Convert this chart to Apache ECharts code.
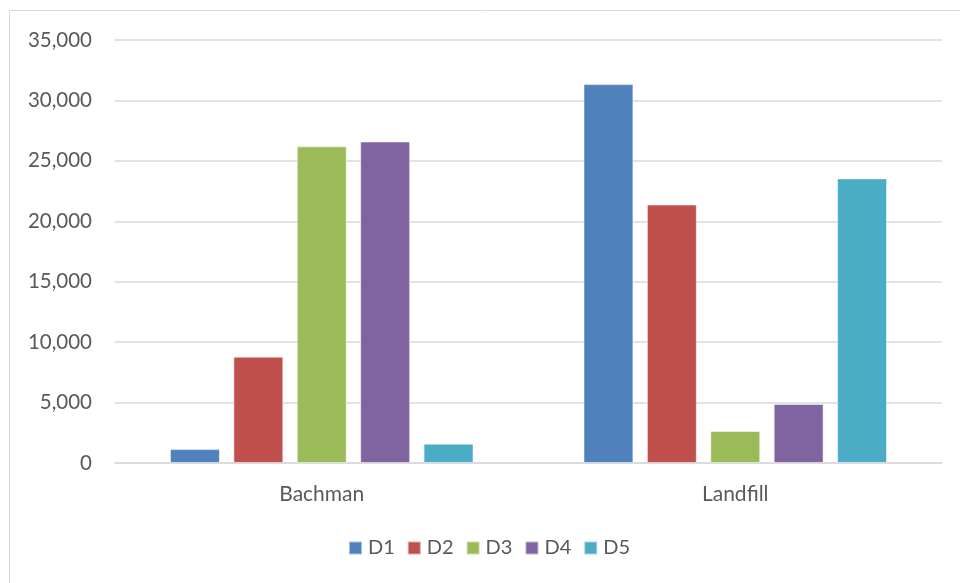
<!DOCTYPE html>
<html>
<head>
<meta charset="utf-8">
<script src="https://cdn.jsdelivr.net/npm/echarts@6/dist/echarts.min.js"></script>
<style>
  html, body { margin: 0; padding: 0; background: #fff; }
  #chart { width: 960px; height: 583px; }
</style>
</head>
<body>
<div id="chart"></div>
<script>
// Sites along the x axis
const categories = ['Bachman', 'Landfill'];
// One series per D group
const seriesNames = ['D1', 'D2', 'D3', 'D4', 'D5'];
const d1 = [1150, 31350];
const d2 = [8800, 21380];
const d3 = [26200, 2650];
const d4 = [26600, 4880];
const d5 = [1600, 23550];
const seriesValues = [d1, d2, d3, d4, d5];
const colors = ['#4F81BD', '#C0504D', '#9BBB59', '#8064A2', '#4BACC6'];
const yTicks = { min: 0, max: 35000, interval: 5000 };

const font = 'Lato, "Open Sans", sans-serif';
const chart = echarts.init(document.getElementById('chart'));

chart.setOption({
  animation: false,
  color: colors,
  graphic: [{
    type: 'rect',
    shape: { x: 9.5, y: 10.5, width: 980, height: 600 },
    style: { fill: 'none', stroke: '#d9d9d9', lineWidth: 1 },
    silent: true
  }],
  grid: { left: 115, right: 18, top: 40, bottom: 120, containLabel: false },
  legend: {
    data: seriesNames,
    bottom: 20,
    left: 343,
    icon: 'rect',
    itemWidth: 13,
    itemHeight: 13,
    itemGap: 12,
    textStyle: { color: '#595959', fontSize: 20, fontFamily: font, padding: [0, 0, 0, 1] }
  },
  xAxis: {
    type: 'category',
    data: categories,
    axisLine: { lineStyle: { color: '#d9d9d9', width: 1.5 } },
    axisTick: { show: false },
    axisLabel: { color: '#595959', fontSize: 21, fontFamily: font, margin: 21 }
  },
  yAxis: {
    type: 'value',
    min: yTicks.min,
    max: yTicks.max,
    interval: yTicks.interval,
    axisLine: { show: false },
    axisTick: { show: false },
    splitLine: { lineStyle: { color: '#d9d9d9', width: 1.5 } },
    axisLabel: {
      color: '#595959', fontSize: 20.5, fontFamily: font, margin: 23,
      formatter: v => v.toLocaleString('en-US')
    }
  },
  series: seriesNames.map((name, i) => ({
    name,
    type: 'bar',
    data: seriesValues[i],
    barGap: '27%',
    barCategoryGap: '26.6%',
    itemStyle: { color: colors[i], borderColor: 'rgba(255,255,255,0.5)', borderWidth: 1 }
  }))
});
</script>
</body>
</html>
